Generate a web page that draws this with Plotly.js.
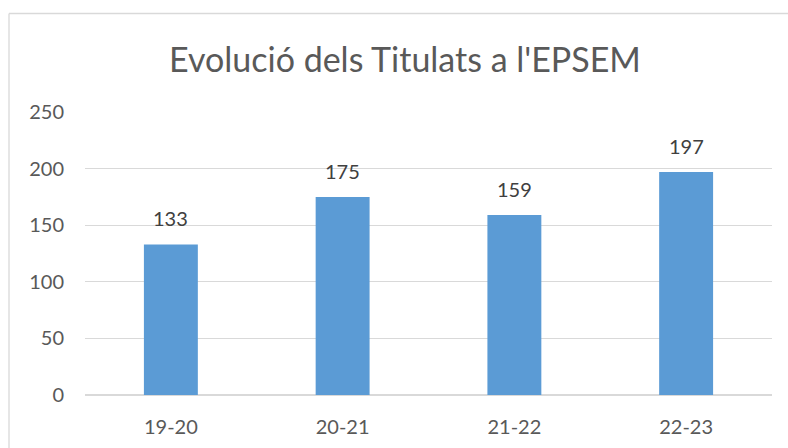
<!DOCTYPE html>
<html>
<head>
<meta charset="utf-8">
<script src="https://cdn.plot.ly/plotly-3.0.1.min.js"></script>
<style>html,body{margin:0;padding:0;background:#fff;}#chart{width:788px;height:448px;}</style>
</head>
<body>
<div id="chart"></div>
<script>
const categories = ["19-20", "20-21", "21-22", "22-23"];
const titulats = [133, 175, 159, 197];
const yTicks = [0, 50, 100, 150, 200, 250];
const chartTitle = "Evolució dels Titulats a l'EPSEM";

const FONT = "Lato, 'Open Sans', sans-serif";
const W = 788, H = 448;
const m = {l: 85, r: 16, t: 112, b: 53};
const pw = W - m.l - m.r, ph = H - m.t - m.b;
const px = v => (v - m.l) / pw;
const py = v => (H - m.b - v) / ph;

const trace = {
  type: "bar",
  x: categories,
  y: titulats,
  marker: {color: "#5B9BD5"},
  hoverinfo: "none"
};

const annotations = categories.map((c, i) => ({
  x: c, y: titulats[i], xref: "x", yref: "y",
  text: String(titulats[i]), showarrow: false,
  yanchor: "bottom", yshift: 12,
  font: {family: FONT, size: 20, color: "#404040"}
}));

const layout = {
  width: W, height: H,
  margin: m,
  paper_bgcolor: "#fff", plot_bgcolor: "#fff",
  showlegend: false,
  bargap: 0.686,
  title: {
    text: chartTitle,
    x: 405 / W, xref: "container", xanchor: "center",
    y: 1 - 60 / H, yref: "container", yanchor: "middle",
    font: {family: FONT, size: 34, color: "#595959"}
  },
  xaxis: {
    type: "category",
    showgrid: false, zeroline: false, showline: false,
    ticks: "",
    ticklabelstandoff: 18,
    tickfont: {family: FONT, size: 20, color: "#595959"}
  },
  yaxis: {
    range: [0, 250],
    tickvals: yTicks,
    ticktext: yTicks.map(String),
    showgrid: true, gridcolor: "#d9d9d9", gridwidth: 1.3,
    zeroline: true, zerolinecolor: "#d9d9d9", zerolinewidth: 1.3,
    showline: false, ticks: "",
    ticklabelstandoff: 20,
    tickfont: {family: FONT, size: 20, color: "#595959"}
  },
  annotations: annotations,
  shapes: [
    {type: "line", xref: "paper", yref: "paper", x0: px(9), x1: px(W + 5), y0: py(13.5), y1: py(13.5), line: {color: "#d9d9d9", width: 1.3}},
    {type: "line", xref: "paper", yref: "paper", x0: px(9), x1: px(9), y0: py(13.5), y1: py(H + 5), line: {color: "#d9d9d9", width: 1.3}}
  ]
};

Plotly.newPlot("chart", [trace], layout, {staticPlot: true, displayModeBar: false});
</script>
</body>
</html>
